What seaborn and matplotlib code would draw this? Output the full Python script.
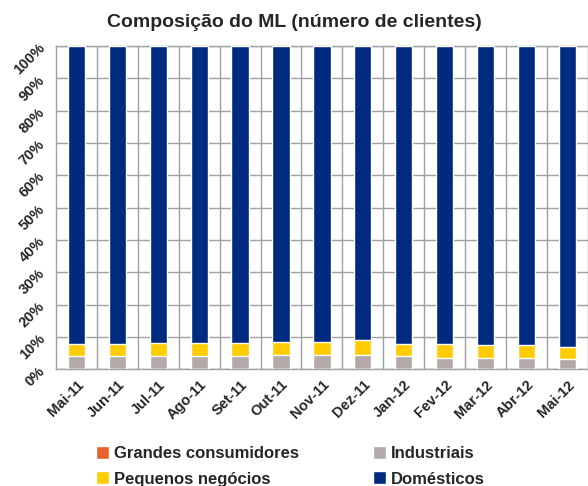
import numpy as np
import pandas as pd
import matplotlib
matplotlib.use('Agg')
import matplotlib.pyplot as plt
import seaborn as sns
from matplotlib.patches import Patch

months = ['Mai-11', 'Jun-11', 'Jul-11', 'Ago-11', 'Set-11', 'Out-11', 'Nov-11',
          'Dez-11', 'Jan-12', 'Fev-12', 'Mar-12', 'Abr-12', 'Mai-12']
grandes = [0.02, 0.02, 0.02, 0.02, 0.02, 0.02, 0.02, 0.02, 0.02, 0.02, 0.02, 0.02, 0.02]
industriais = [4.0, 4.0, 4.0, 4.0, 4.0, 4.4, 4.4, 4.4, 4.0, 3.5, 3.5, 3.5, 3.2]
pequenos = [3.8, 3.8, 4.1, 4.1, 4.1, 4.2, 4.2, 4.6, 3.8, 4.3, 3.9, 3.9, 3.8]

colors = {'Grandes consumidores': '#E8632B', 'Industriais': '#B3A9A8',
          'Pequenos negócios': '#FFCC00', 'Domésticos': '#002A7F'}

df = pd.DataFrame({'mes': months, 'grandes': grandes,
                   'industriais': industriais, 'pequenos': pequenos})
df['c1'] = df['grandes']
df['c2'] = df['c1'] + df['industriais']
df['c3'] = df['c2'] + df['pequenos']
df['domesticos'] = 100 - df['c3']
df['c4'] = df['c3'] + df['domesticos']

sns.set_style('white')
plt.rcParams['font.family'] = ['Liberation Sans', 'DejaVu Sans']

fig = plt.figure(figsize=(5.88, 4.86), dpi=100)
ax = fig.add_axes([0.095, 0.24, 0.905, 0.665])

# stacked bars drawn as cumulative layers, tallest first
for col, name in [('c4', 'Domésticos'), ('c3', 'Pequenos negócios'),
                  ('c2', 'Industriais'), ('c1', 'Grandes consumidores')]:
    sns.barplot(data=df, x='mes', y=col, color=colors[name], width=0.42,
                saturation=1, ax=ax, zorder=3)

ax.set_ylim(0, 100)
ax.set_xlim(-0.5, len(months) - 0.5)
ax.set_yticks(np.arange(0, 101, 10))
ax.set_yticklabels([f'{v}%' for v in range(0, 101, 10)], rotation=45,
                   fontsize=10.5, fontweight='bold')
ax.set_xticks(range(len(months)))
ax.set_xticklabels(months, rotation=45, ha='right', rotation_mode='anchor',
                   fontsize=10.5, fontweight='bold')
ax.set_xlabel('')
ax.set_ylabel('')
ax.tick_params(axis='both', length=0, pad=6)

ax.yaxis.grid(True, color='#A0A0A0', linewidth=1, zorder=0)
for x in np.arange(0.5, len(months) - 0.5, 1):
    ax.axvline(x, color='#A0A0A0', linewidth=1, zorder=0)
for s in ax.spines.values():
    s.set_color('#A0A0A0')
    s.set_linewidth(1)

fig.suptitle('Composição do ML (número de clientes)', fontsize=14,
             fontweight='bold', y=0.972)

order = ['Grandes consumidores', 'Pequenos negócios', 'Industriais', 'Domésticos']
handles = [Patch(facecolor=colors[n], label=n) for n in order]
fig.legend(handles=handles, loc='lower left', bbox_to_anchor=(0.138, -0.032),
           ncol=2, frameon=False, prop={'weight': 'bold', 'size': 12},
           handlelength=0.8, handleheight=0.8, handletextpad=0.3,
           columnspacing=4.4, labelspacing=0.6)

fig.savefig('out.png', dpi=100)
